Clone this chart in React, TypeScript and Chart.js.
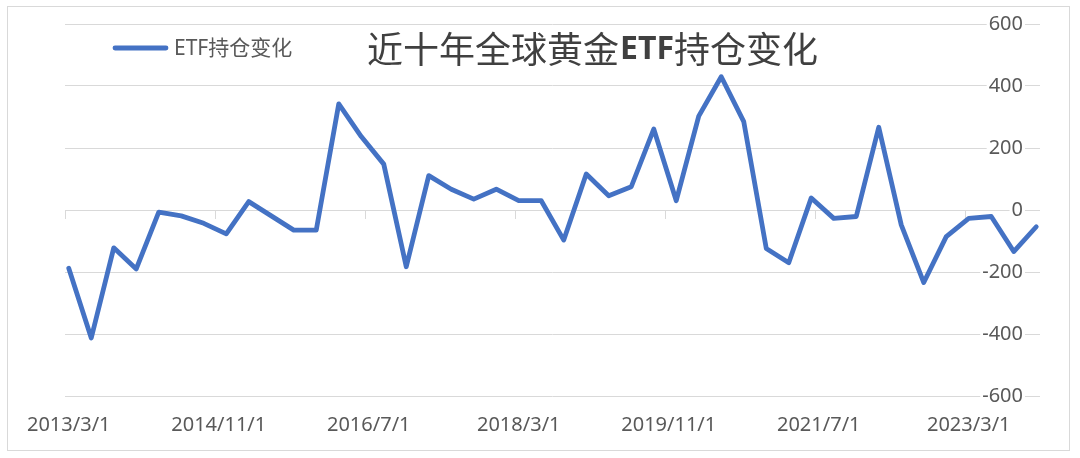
import React, { useEffect, useRef } from 'react';
import { Chart, registerables } from 'chart.js';

Chart.register(...registerables);

// ---- data ----
const titleParts = ['近十年全球黄金', 'ETF', '持仓变化'];
const seriesName = 'ETF持仓变化';
const quarterDates = [
  '2013/3/1', '2013/6/1', '2013/9/1', '2013/12/1',
  '2014/3/1', '2014/6/1', '2014/9/1', '2014/12/1',
  '2015/3/1', '2015/6/1', '2015/9/1', '2015/12/1',
  '2016/3/1', '2016/6/1', '2016/9/1', '2016/12/1',
  '2017/3/1', '2017/6/1', '2017/9/1', '2017/12/1',
  '2018/3/1', '2018/6/1', '2018/9/1', '2018/12/1',
  '2019/3/1', '2019/6/1', '2019/9/1', '2019/12/1',
  '2020/3/1', '2020/6/1', '2020/9/1', '2020/12/1',
  '2021/3/1', '2021/6/1', '2021/9/1', '2021/12/1',
  '2022/3/1', '2022/6/1', '2022/9/1', '2022/12/1',
  '2023/3/1', '2023/6/1', '2023/9/1', '2023/12/1',
];
const etfChange = [
  -188, -413, -122, -190,
  -7, -19, -43, -77,
  27, -19, -65, -65,
  342, 237, 148, -183,
  111, 67, 35, 67,
  30, 30, -97, 116,
  46, 75, 261, 30,
  303, 430, 285, -124,
  -170, 39, -27, -21,
  267, -48, -234, -86,
  -27, -21, -134, -54,
];
const xTickLabels = ['2013/3/1', '2014/11/1', '2016/7/1', '2018/3/1', '2019/11/1', '2021/7/1', '2023/3/1'];
const xTickStepMonths = 20;
const axisStartYear = 2013;
const axisStartMonth = 3;
const axisMonths = 130;
const yMin = -600;
const yMax = 600;
const yStep = 200;

const LINE_COLOR = '#4472C4';
const GRID_COLOR = '#d9d9d9';
const TEXT_COLOR = '#595959';
const FONT = '"Noto Sans", "Noto Sans CJK SC", sans-serif';

function monthIndex(d: string): number {
  const [y, m] = d.split('/').map(Number);
  return (y - axisStartYear) * 12 + (m - axisStartMonth);
}

const overlayPlugin = {
  id: 'overlay',
  afterDraw(chart: any) {
    const ctx = chart.ctx as CanvasRenderingContext2D;
    const area = chart.chartArea;
    const ds = chart.data.datasets[0];
    ctx.save();
    // legend entry
    const ly = area.top + 24;
    ctx.strokeStyle = ds.borderColor;
    ctx.lineWidth = 4.8;
    ctx.lineCap = 'round';
    ctx.beginPath();
    ctx.moveTo(area.left + 50, ly);
    ctx.lineTo(area.left + 101, ly);
    ctx.stroke();
    ctx.fillStyle = TEXT_COLOR;
    ctx.font = `21px ${FONT}`;
    ctx.textBaseline = 'middle';
    ctx.textAlign = 'left';
    ctx.fillText(ds.label, area.left + 109, ly + 1);
    // title
    let tx = area.left + 302;
    const ty = area.top + 25;
    ctx.fillStyle = '#404040';
    const fonts = [
      `36px "Noto Sans CJK SC", sans-serif`,
      `bold 32px "Noto Sans", "Noto Sans CJK SC", sans-serif`,
      `36px "Noto Sans CJK SC", sans-serif`,
    ];
    titleParts.forEach((part, i) => {
      ctx.font = fonts[i];
      ctx.fillText(part, tx, ty + (i === 1 ? 1 : 0));
      tx += ctx.measureText(part).width + (i === 0 ? 1 : 0);
    });
    ctx.restore();
  },
};

export default function App() {
  const canvasRef = useRef<HTMLCanvasElement | null>(null);

  useEffect(() => {
    if (!canvasRef.current) return;
    const points = quarterDates.map((d, i) => ({ x: monthIndex(d) + 0.5, y: etfChange[i] }));
    const chart = new Chart(canvasRef.current, {
      type: 'line',
      data: {
        datasets: [
          {
            label: seriesName,
            data: points,
            borderColor: LINE_COLOR,
            backgroundColor: LINE_COLOR,
            borderWidth: 4.8,
            pointRadius: 0,
            tension: 0,
            borderJoinStyle: 'round',
            borderCapStyle: 'round',
            xAxisID: 'x',
            yAxisID: 'y',
          },
        ],
      },
      options: {
        animation: false,
        responsive: false,
        layout: { padding: { left: 65, right: 40, top: 24, bottom: 0 } },
        plugins: {
          legend: { display: false },
          title: { display: false },
          tooltip: { enabled: false },
        },
        scales: {
          x: {
            type: 'linear',
            position: { y: 0 },
            min: 0,
            max: axisMonths,
            afterFit: (s: any) => { s.height = 0; s.paddingLeft = 0; s.paddingRight = 0; },
            ticks: { display: false, stepSize: xTickStepMonths, includeBounds: false },
            grid: {
              display: true,
              drawOnChartArea: false,
              drawTicks: true,
              tickLength: 9,
              color: GRID_COLOR,
              lineWidth: 1,
            },
            border: { display: false },
          },
          x2: {
            type: 'linear',
            position: 'bottom',
            min: -0.5,
            max: axisMonths - 0.5,
            afterFit: (s: any) => { s.height = 62; s.paddingLeft = 0; s.paddingRight = 0; },
            ticks: {
              stepSize: xTickStepMonths,
              includeBounds: false,
              autoSkip: false,
              maxRotation: 0,
              padding: 9,
              color: TEXT_COLOR,
              font: { family: FONT, size: 20 },
              callback: (v: any) => xTickLabels[Math.round(Number(v) / xTickStepMonths)] ?? '',
            },
            grid: { display: false },
            border: { display: false },
          },
          y: {
            type: 'linear',
            position: 'right',
            min: yMin,
            max: yMax,
            afterFit: (s: any) => { s.width = 0; s.paddingTop = 0; s.paddingBottom = 0; },
            ticks: {
              stepSize: yStep,
              mirror: true,
              padding: -17,
              color: TEXT_COLOR,
              font: { family: FONT, size: 20 },
              showLabelBackdrop: true,
              backdropColor: '#ffffff',
              backdropPadding: { top: 0, bottom: 0, left: 2, right: 2 },
            },
            grid: { color: GRID_COLOR, lineWidth: 1, drawTicks: false },
            border: { display: false },
          },
        },
      } as any,
      plugins: [overlayPlugin],
    });
    return () => chart.destroy();
  }, []);

  return (
    <div style={{ position: 'absolute', left: 0, top: 0, width: 1080, height: 458, overflow: 'hidden', background: '#fff' }}>
      <div
        style={{
          position: 'absolute',
          left: 7,
          top: 6,
          width: 1063,
          height: 445,
          boxSizing: 'border-box',
          border: `1px solid ${GRID_COLOR}`,
        }}
      />
      <canvas ref={canvasRef} width={1080} height={458} style={{ position: 'absolute', left: 0, top: 0, width: 1080, height: 458 }} />
    </div>
  );
}
